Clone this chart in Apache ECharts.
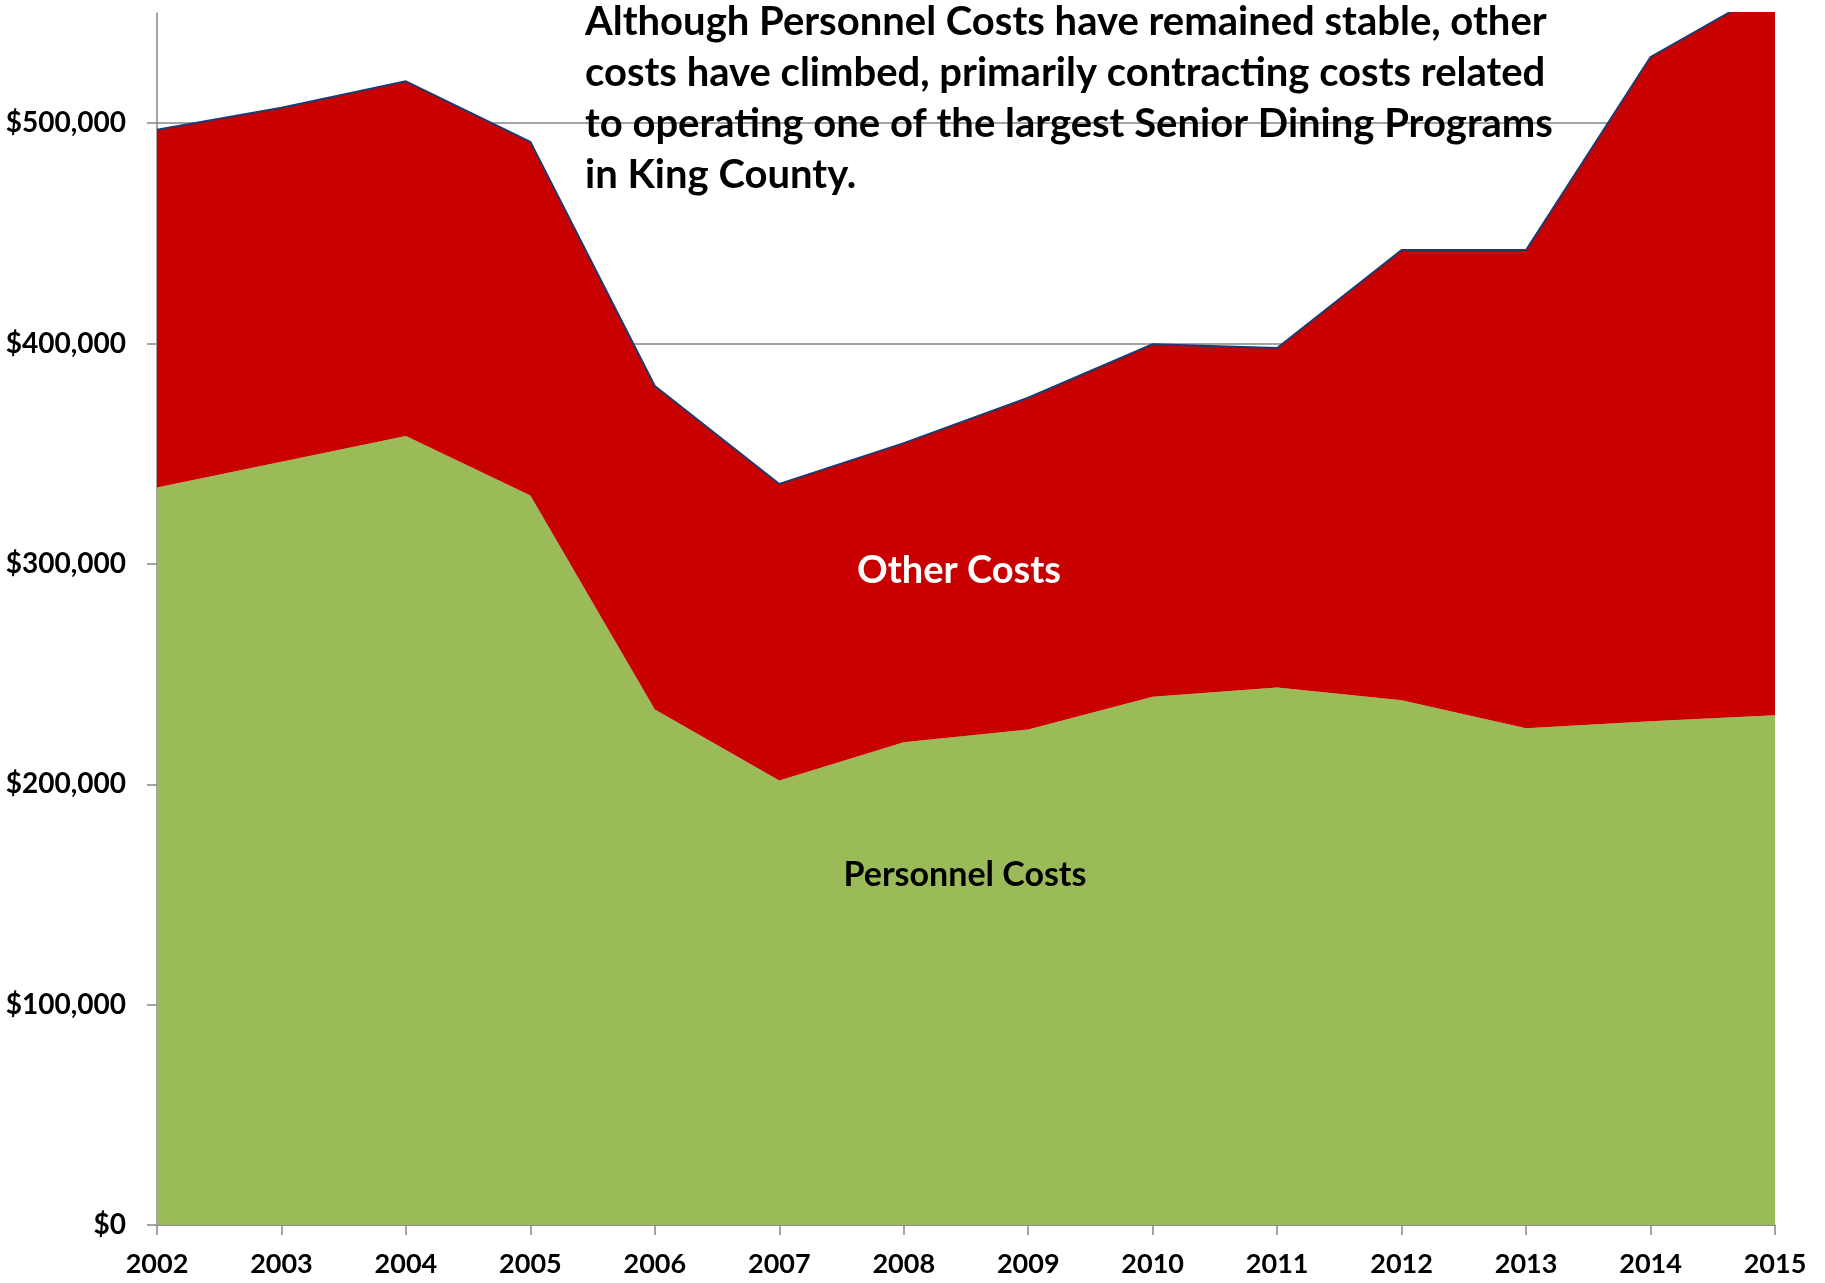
<!DOCTYPE html>
<html>
<head>
<meta charset="utf-8" />
<title>Costs</title>
<style>
  html, body, #main { width: 100%; height: 100%; margin: 0; overflow: hidden; background: #fff; }
</style>
<script src="https://cdn.jsdelivr.net/npm/echarts@6/dist/echarts.min.js"></script>
</head>
<body>
<div id="main"></div>
<script>
// years on the x axis
var years = ['2002', '2003', '2004', '2005', '2006', '2007', '2008', '2009', '2010', '2011', '2012', '2013', '2014', '2015'];
// personnel costs (bottom, green)
var personnel = [334700, 346400, 358000, 331000, 233900, 201700, 219100, 224900, 239700, 243900, 238100, 225400, 228600, 231300];
// other costs (stacked on top, red)
var other = [162300, 160600, 161000, 160500, 146800, 134600, 135700, 150500, 160000, 154100, 204300, 217000, 301400, 330700];
var yTicks = [0, 100000, 200000, 300000, 400000, 500000];

var note = 'Although Personnel Costs have remained stable, other\ncosts have climbed, primarily contracting costs related\nto operating one of the largest Senior Dining Programs\nin King County.';
var font = 'Lato, "Open Sans", sans-serif';

var chart = echarts.init(document.getElementById('main'));

function money(v) {
  return '$' + v.toString().replace(/\B(?=(\d{3})+(?!\d))/g, ',');
}

chart.setOption({
  animation: false,
  grid: { left: 157, right: 50, top: 13, bottom: 58 },
  xAxis: {
    type: 'category',
    data: years,
    boundaryGap: false,
    axisLine: { lineStyle: { color: '#868686', width: 1.5 } },
    axisTick: { alignWithLabel: true, length: 10, lineStyle: { color: '#868686', width: 1.5 } },
    axisLabel: { margin: 26, color: '#000', fontFamily: font, fontWeight: 'bold', fontSize: 27 }
  },
  yAxis: {
    type: 'value',
    min: 0,
    max: 550000,
    interval: 100000,
    axisLine: { show: true, lineStyle: { color: '#868686', width: 1.5 } },
    axisTick: { show: true, length: 10, customValues: yTicks, lineStyle: { color: '#868686', width: 1.5 } },
    axisLabel: {
      margin: 31, color: '#000', fontFamily: font, fontWeight: 'bold', fontSize: 28,
      customValues: yTicks,
      formatter: money
    },
    splitLine: { lineStyle: { color: '#868686', width: 1.5 } }
  },
  series: [
    {
      name: 'Personnel Costs',
      type: 'line',
      stack: 'total',
      data: personnel,
      symbol: 'none',
      lineStyle: { width: 0 },
      areaStyle: { color: '#9BBB59', opacity: 1 }
    },
    {
      name: 'Other Costs',
      type: 'line',
      stack: 'total',
      data: other,
      symbol: 'none',
      lineStyle: { color: '#1F3A6E', width: 2 },
      areaStyle: { color: '#C80000', opacity: 1 }
    }
  ],
  graphic: [
    {
      type: 'text', left: 585, top: -3, z: 100,
      style: { text: note, fill: '#000', font: 'bold 40px ' + font, lineHeight: 51 }
    },
    {
      type: 'text', x: 959, y: 571, z: 100,
      style: { text: 'Other Costs', fill: '#fff', font: 'bold 38px ' + font, align: 'center', verticalAlign: 'middle' }
    },
    {
      type: 'text', x: 965, y: 875, z: 100,
      style: { text: 'Personnel Costs', fill: '#000', font: 'bold 34px ' + font, align: 'center', verticalAlign: 'middle' }
    }
  ]
});
</script>
</body>
</html>
